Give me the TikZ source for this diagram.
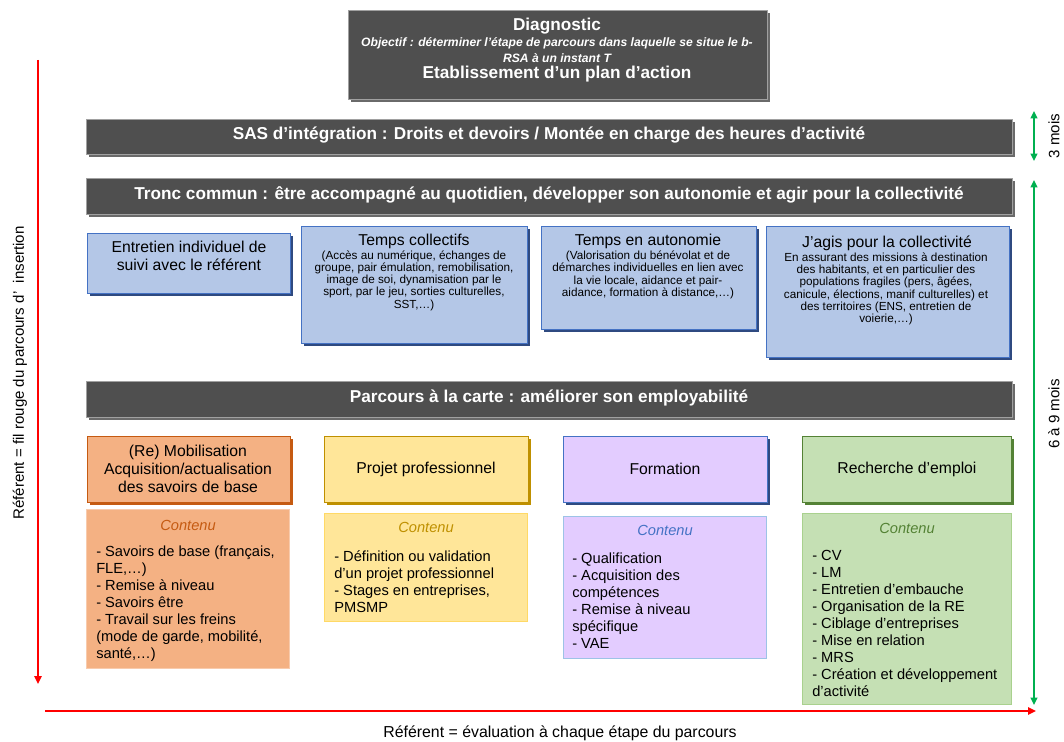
\documentclass[tikz,border=0pt]{standalone}
\usepackage{fontspec}
\setmainfont{Liberation Sans}
\usetikzlibrary{shadows,arrows.meta}

% palette
\definecolor{barfill}{HTML}{4F4F4F}
\definecolor{barline}{HTML}{A0A0A0}
\definecolor{barshadow}{HTML}{6A6A6A}
\definecolor{bluefill}{HTML}{B4C7E7}
\definecolor{blueline}{HTML}{4472C4}
\definecolor{blueshadow}{HTML}{2F4A80}
\definecolor{orfill}{HTML}{F4B183}
\definecolor{orline}{HTML}{C55A11}
\definecolor{orlight}{HTML}{F8CBAD}
\definecolor{yefill}{HTML}{FFE699}
\definecolor{yeline}{HTML}{FFC000}
\definecolor{yedark}{HTML}{BF9000}
\definecolor{yelight}{HTML}{FFD966}
\definecolor{pufill}{HTML}{E3CCFF}
\definecolor{pulight}{HTML}{9DC3E6}
\definecolor{grfill}{HTML}{C5E0B4}
\definecolor{grline}{HTML}{548235}
\definecolor{grshadow}{HTML}{385723}
\definecolor{grlight}{HTML}{A9D18E}
\definecolor{arrowgreen}{HTML}{00B050}
\definecolor{arrowred}{HTML}{FF0000}

\begin{document}
\begin{tikzpicture}[x=0.75pt,y=-0.75pt,
  sz/.style 2 args={minimum width=#1*0.75pt, minimum height=#2*0.75pt,
    anchor=north west, inner sep=0pt, rectangle},
  shad/.style={drop shadow={shadow xshift=1.8pt, shadow yshift=-1.8pt,
    fill=#1, opacity=1}},
  darkbox/.style={draw=barline, fill=barfill, line width=0.6pt, shad=barshadow},
  bluebox/.style={draw=blueline, fill=bluefill, line width=0.6pt, shad=blueshadow},
  headbox/.style 2 args={draw=#1, fill=#2, line width=0.6pt, shad=#1},
  contbox/.style 2 args={draw=#1, fill=#2, line width=0.6pt},
  txt/.style={inner sep=0pt, align=center},
  bartext/.style={txt, text=white, font=\fontsize{12.9}{15}\selectfont\bfseries},
  title/.style={txt, font=\fontsize{11.8}{13.5}\selectfont},
  small/.style={txt, font=\fontsize{8.8}{9.2}\selectfont},
  conthead/.style={txt, text=#1, font=\fontsize{11}{13}\selectfont\itshape},
  list/.style={inner sep=0pt, align=left, anchor=west,
    font=\fontsize{11}{12.75}\selectfont},
  label/.style={inner sep=0pt, font=\fontsize{11.3}{13}\selectfont},
  redarrow/.style={draw=arrowred, line width=2.2pt,
    -{Triangle[length=6pt,width=5.5pt]}},
  greenarrow/.style={draw=arrowgreen, line width=1.8pt,
    {Triangle[length=5.5pt,width=5pt]}-{Triangle[length=5.5pt,width=5pt]}},
]
\useasboundingbox (0,0) rectangle (1064,742);

% ---- diagnostic block
\node[sz={419}{89}, darkbox] (diag) at (348,10) {};
\node[txt, text=white] (diagT) at (557,50) {%
  {\fontsize{12.9}{15}\selectfont\bfseries Diagnostic}\\[0.5pt]
  {\fontsize{9.1}{9.6}\selectfont\bfseries\itshape Objectif : déterminer l’étape de parcours dans laquelle se situe le b-}\\[-0.5pt]
  {\fontsize{9.1}{9.6}\selectfont\bfseries\itshape RSA à un instant T}\\[0.5pt]
  {\fontsize{12.9}{15}\selectfont\bfseries Etablissement d’un plan d’action}};

% ---- full-width bars
\node[sz={926}{35}, darkbox] (sas) at (86,119) {};
\node[bartext] (sasT) at (549,135) {SAS d’intégration : Droits et devoirs / Montée en charge des heures d’activité};
\node[sz={926}{36}, darkbox] (tronc) at (86,178) {};
\node[bartext] (troncT) at (549,195) {Tronc commun : être accompagné au quotidien, développer son autonomie et agir pour la collectivité};
\node[sz={926}{36}, darkbox] (parc) at (86,381) {};
\node[bartext] (parcT) at (549,398) {Parcours à la carte : améliorer son employabilité};

% ---- common core boxes
\node[sz={203}{60}, bluebox] (ent) at (87,233) {};
\node[title] (entT) at (189,256) {Entretien individuel de\\suivi avec le référent};

\node[sz={226}{117}, bluebox] (coll) at (301,226) {};
\node[title] (collT) at (414,241) {Temps collectifs};
\node[small] (collB) at (414,280.5) {(Accès au numérique, échanges de\\groupe, pair émulation, remobilisation,\\image de soi, dynamisation par le\\sport, par le jeu, sorties culturelles,\\SST,…)};

\node[sz={215}{103}, bluebox] (auto) at (541,226) {};
\node[title] (autoT) at (648,241) {Temps en autonomie};
\node[small] (autoB) at (648,275) {(Valorisation du bénévolat et de\\démarches individuelles en lien avec\\la vie locale, aidance et pair-\\aidance, formation à distance,…)};

\node[sz={243}{131}, bluebox] (agis) at (766,226) {};
\node[title] (agisT) at (887,243) {J’agis pour la collectivité};
\node[small] (agisB) at (886,289) {En assurant des missions à destination\\des habitants, et en particulier des\\populations fragiles (pers, âgées,\\canicule, élections, manif culturelles) et\\des territoires (ENS, entretien de\\voierie,…)};

% ---- tailored paths: headers
\node[sz={203}{66}, headbox={orline}{orfill}] (mob) at (87,436) {};
\node[title] (mobT) at (188,469) {(Re) Mobilisation\\Acquisition/actualisation\\des savoirs de base};
\node[sz={204}{66}, headbox={yedark}{yefill}] (proj) at (324,436) {};
\node[title] (projT) at (426,469) {Projet professionnel};
\node[sz={204}{66}, draw=blueline, fill=pufill, line width=0.6pt, shad=blueshadow] (form) at (563,436) {};
\node[title] (formT) at (665,469) {Formation};
\node[sz={209}{66}, headbox={grline}{grfill}] (rech) at (802,436) {};
\node[title] (rechT) at (907,469) {Recherche d’emploi};

% ---- tailored paths: contents
\node[sz={203}{159}, contbox={orlight}{orfill}] (mobC) at (86,509) {};
\node[conthead=orline] (mobH) at (188,525) {Contenu};
\node[list] (mobL) at (96,604) {- Savoirs de base (français,\\FLE,…)\\- Remise à niveau\\- Savoirs être\\- Travail sur les freins\\(mode de garde, mobilité,\\santé,…)};

\node[sz={203}{108}, contbox={yelight}{yefill}] (projC) at (324,513) {};
\node[conthead=yedark] (projH) at (426,527) {Contenu};
\node[list] (projL) at (334,581.5) {- Définition ou validation\\d’un projet professionnel\\- Stages en entreprises,\\PMSMP};

\node[sz={203}{142}, contbox={pulight}{pufill}] (formC) at (563,516) {};
\node[conthead=blueline] (formH) at (665,530) {Contenu};
\node[list] (formL) at (572,601) {- Qualification\\- Acquisition des\\compétences\\- Remise à niveau\\spécifique\\- VAE};

\node[sz={209}{191}, contbox={grlight}{grfill}] (rechC) at (802,513) {};
\node[conthead=grline] (rechH) at (907,528) {Contenu};
\node[list] (rechL) at (812,623) {- CV\\- LM\\- Entretien d’embauche\\- Organisation de la RE\\- Ciblage d’entreprises\\- Mise en relation\\- MRS\\- Création et développement\\d’activité};

% ---- guiding arrows
\coordinate (vtop) at (38,60);
\coordinate (vbot) at (38,684);
\draw[redarrow] (vtop) -- (vbot);
\node[label, rotate=90] (vlab) at (20,373) {Référent = fil rouge du parcours d’\ \ insertion};

\coordinate (hleft) at (45,711);
\coordinate (hright) at (1036,711);
\draw[redarrow] (hleft) -- (hright);
\node[label, font=\fontsize{11.9}{14}\selectfont] (hlab) at (560,733) {Référent = évaluation à chaque étape du parcours};

\coordinate (g1a) at (1034,111);
\coordinate (g1b) at (1034,161);
\draw[greenarrow] (g1a) -- (g1b);
\node[label, rotate=90] (g1lab) at (1054,136) {3 mois};

\coordinate (g2a) at (1034,180);
\coordinate (g2b) at (1034,705);
\draw[greenarrow] (g2a) -- (g2b);
\node[label, rotate=90] (g2lab) at (1054,414) {6 à 9 mois};
\end{tikzpicture}
\end{document}
